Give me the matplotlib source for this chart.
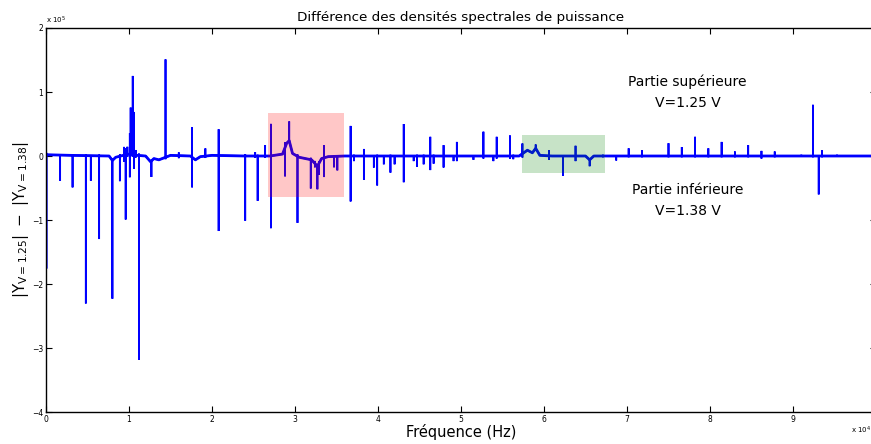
import numpy as np
import matplotlib
matplotlib.use("Agg")
import matplotlib.pyplot as plt
from matplotlib.patches import Rectangle

# ---- data (frequency in units of 1e4 Hz, amplitude in units of 1e5) ----
# slowly varying baseline of the difference spectrum
base_f = [0.00, 0.30, 0.76, 0.80, 0.84, 0.90, 1.00, 1.10, 1.20, 1.26, 1.30, 1.36, 1.50,
          1.74, 1.80, 1.86, 2.00, 2.40, 2.70, 2.85, 2.90, 2.93, 2.97, 3.05, 3.20, 3.27,
          3.32, 3.40, 3.60, 5.70, 5.80, 5.86, 5.90, 5.95, 6.10, 6.50, 6.55, 6.60, 7.00, 10.0]
base_v = [0.02, 0.01, 0.00, -0.07, -0.02, 0.00, 0.03, 0.01, 0.00, -0.09, -0.04, -0.06, 0.01,
          0.00, -0.06, -0.01, 0.01, 0.00, 0.00, 0.03, 0.20, 0.24, 0.04, -0.02, -0.06, -0.16,
          -0.04, -0.01, 0.00, 0.00, 0.09, 0.05, 0.12, 0.01, 0.00, 0.00, -0.06, 0.00, 0.00, 0.00]

# individual spectral lines: frequency, positive excursion, negative excursion (relative to baseline)
spike_f = [0.005, 0.17, 0.32, 0.48, 0.54, 0.64, 0.80, 0.89, 0.94, 0.96, 0.98, 1.01, 1.02,
           1.045, 1.06, 1.08, 1.12, 1.27, 1.44, 1.60, 1.76, 1.92, 2.08, 2.40, 2.52, 2.55,
           2.64, 2.71, 2.88, 2.93, 3.03, 3.19, 3.24, 3.27, 3.29, 3.35, 3.47, 3.51, 3.67,
           3.71, 3.83, 3.95, 3.99, 4.07, 4.15, 4.20, 4.31, 4.43, 4.47, 4.55, 4.63, 4.67,
           4.79, 4.91, 4.95, 5.15, 5.27, 5.39, 5.43, 5.59, 5.63, 5.74, 5.90, 6.06, 6.23,
           6.38, 6.55, 6.71, 6.87, 7.02, 7.18, 7.50, 7.66, 7.82, 7.98, 8.14, 8.30, 8.46,
           8.62, 8.78, 9.10, 9.24, 9.31, 9.35, 9.53]
spike_up = [0.03, 0.01, 0.01, 0.02, 0.01, 0.02, 0.03, 0.03, 0.13, 0.10, 0.12, 0.33, 0.73,
            1.23, 0.67, 0.08, 0.03, 0.02, 1.53, 0.05, 0.47, 0.12, 0.41, 0.03, 0.06, 0.02,
            0.17, 0.50, 0.08, 0.30, 0.03, 0.03, 0.04, 0.03, 0.03, 0.20, 0.02, 0.02, 0.47,
            0.02, 0.11, 0.01, 0.02, 0.01, 0.02, 0.01, 0.50, 0.01, 0.02, 0.02, 0.30, 0.02,
            0.17, 0.01, 0.22, 0.01, 0.38, 0.01, 0.30, 0.32, 0.02, 0.16, 0.06, 0.09, 0.01,
            0.16, 0.02, 0.02, 0.01, 0.12, 0.09, 0.20, 0.14, 0.30, 0.12, 0.22, 0.07, 0.17,
            0.08, 0.07, 0.02, 0.80, 0.01, 0.09, 0.02]
spike_dn = [-1.78, -0.40, -0.50, -2.31, -0.39, -1.30, -2.16, -0.39, -0.10, -1.01, -0.04, -0.36, -0.03,
            -0.03, -0.22, -0.04, -3.19, -0.25, -0.03, -0.04, -0.47, -0.03, -1.18, -1.01, -0.03, -0.70,
            -0.03, -1.13, -0.45, -0.03, -1.04, -0.45, -0.06, -0.36, -0.18, -0.30, -0.17, -0.22, -0.71,
            -0.08, -0.37, -0.18, -0.46, -0.13, -0.26, -0.13, -0.41, -0.08, -0.17, -0.13, -0.22, -0.12,
            -0.18, -0.08, -0.08, -0.06, -0.04, -0.08, -0.04, -0.04, -0.05, -0.06, -0.03, -0.06, -0.31,
            -0.08, -0.10, -0.02, -0.07, -0.02, -0.02, -0.02, -0.02, -0.02, -0.02, -0.02, -0.02, -0.02,
            -0.04, -0.02, -0.01, -0.02, -0.60, -0.02, -0.01]

x_ticks = [0, 1, 2, 3, 4, 5, 6, 7, 8, 9, 10]
y_ticks = [-4, -3, -2, -1, 0, 1, 2]

# ---- assemble the trace ----
xs, ys = [], []
bf = np.array(base_f)
bv = np.array(base_v)
events = sorted([(f, None, None) for f in base_f] +
                [(f, u, d) for f, u, d in zip(spike_f, spike_up, spike_dn)], key=lambda t: t[0])
for f, u, d in events:
    b = float(np.interp(f, bf, bv))
    if u is None:
        xs.append(f); ys.append(b)
    else:
        xs += [f, f, f, f]
        ys += [b, b + u, b + d, b]

W, H = 871, 444
fig = plt.figure(figsize=(W / 100, H / 100), dpi=100)
ax = fig.add_axes([46 / W, 32 / H, 830 / W, 384 / H])
ax.plot(base_f, base_v, color=(0, 0, 1), lw=2.0, solid_joinstyle="round")
ax.plot(xs, ys, color=(0, 0, 1), lw=1.3, solid_joinstyle="bevel", solid_capstyle="butt")

ax.add_patch(Rectangle((2.675, -0.635), 3.59 - 2.675, 0.677 + 0.635,
                       facecolor=(1, 0, 0), alpha=0.22, edgecolor="none", zorder=3))
ax.add_patch(Rectangle((5.73, -0.26), 6.74 - 5.73, 0.33 + 0.26,
                       facecolor=(0, 0.5, 0), alpha=0.22, edgecolor="none", zorder=3))

ax.set_xlim(0, 10)
ax.set_ylim(-4, 2)
ax.set_xticks(x_ticks)
ax.set_yticks(y_ticks)
ax.tick_params(direction="in", length=4, width=0.8, top=True, right=True,
               labelsize=5.5, colors="black", pad=2)
for s in ax.spines.values():
    s.set_linewidth(1.0)

ax.text(0.0, 1.004, r"x 10$^5$", transform=ax.transAxes, fontsize=5, va="bottom", ha="left")
fig.text(851 / W, 1 - 436 / H, r"x 10$^4$", fontsize=5, va="bottom", ha="left")

ax.set_title("Différence des densités spectrales de puissance", fontsize=9.7, pad=5)
ax.set_xlabel("Fréquence (Hz)", fontsize=10.5, labelpad=0)
ax.set_ylabel(r"$\mathsf{|Y_{V=1.25}|\ -\ |Y_{V=1.38}|}$", fontsize=11, labelpad=1)

ax.text(7.73, 1.16, "Partie supérieure", ha="center", va="center", fontsize=10)
ax.text(7.73, 0.83, "V=1.25 V", ha="center", va="center", fontsize=10)
ax.text(7.73, -0.53, "Partie inférieure", ha="center", va="center", fontsize=10)
ax.text(7.73, -0.86, "V=1.38 V", ha="center", va="center", fontsize=10)

fig.savefig("out.png", dpi=100)
